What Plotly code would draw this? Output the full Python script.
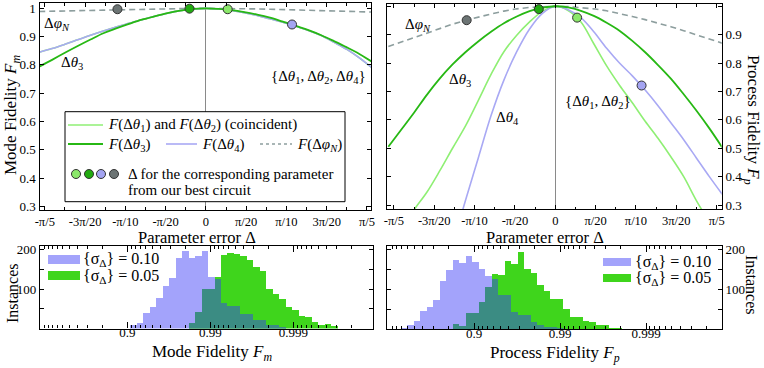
import math
import plotly.graph_objects as go

W, H = 764, 368
SERIF = "Liberation Serif, Times New Roman, serif"

# parameter error grid (rad)
DELTA = [-0.65, -0.60, -0.55, -0.50, -0.45, -0.40, -0.35, -0.30, -0.25, -0.20, -0.15, -0.10, -0.05,
         0.00, 0.05, 0.10, 0.15, 0.20, 0.25, 0.30, 0.35, 0.40, 0.45, 0.50, 0.55, 0.60, 0.65]

# mode fidelity vs parameter error
MODE_T3 = [0.794, 0.818, 0.843, 0.867, 0.890, 0.912, 0.929, 0.945, 0.960, 0.972, 0.983, 0.992, 0.998,
           1.000, 0.998, 0.994, 0.987, 0.978, 0.967, 0.953, 0.938, 0.923, 0.905, 0.884, 0.862, 0.838, 0.810]
MODE_T4 = [0.845, 0.858, 0.873, 0.889, 0.905, 0.920, 0.934, 0.947, 0.960, 0.972, 0.983, 0.992, 0.998,
           1.000, 0.998, 0.993, 0.985, 0.975, 0.963, 0.951, 0.937, 0.922, 0.904, 0.880, 0.855, 0.824, 0.788]
MODE_T12 = [0.845, 0.858, 0.873, 0.889, 0.905, 0.920, 0.934, 0.947, 0.960, 0.972, 0.983, 0.992, 0.998,
            1.000, 0.998, 0.993, 0.985, 0.975, 0.963, 0.951, 0.937, 0.922, 0.904, 0.880, 0.855, 0.824, 0.788]
MODE_PHI = [0.989, 0.990, 0.992, 0.993, 0.994, 0.995, 0.996, 0.997, 0.998, 0.999, 0.999, 1.000, 1.000,
            1.000, 1.000, 1.000, 0.999, 0.998, 0.997, 0.996, 0.995, 0.994, 0.993, 0.992, 0.990, 0.989, 0.987]

# process fidelity vs parameter error
PROC_T3 = [0.505, 0.565, 0.625, 0.688, 0.745, 0.795, 0.838, 0.876, 0.910, 0.940, 0.964, 0.983, 0.995,
           1.000, 0.996, 0.984, 0.966, 0.942, 0.914, 0.878, 0.838, 0.793, 0.745, 0.690, 0.632, 0.570, 0.503]
PROC_T12 = [0.130, 0.210, 0.283, 0.345, 0.420, 0.500, 0.578, 0.668, 0.760, 0.840, 0.898, 0.945, 0.982,
            1.000, 0.985, 0.945, 0.868, 0.790, 0.722, 0.660, 0.595, 0.535, 0.470, 0.400, 0.315, 0.240, 0.170]
PROC_T4 = [None, None, None, None, None, 0.160, 0.315, 0.465, 0.615, 0.740, 0.840, 0.920, 0.975,
           1.000, 0.988, 0.960, 0.910, 0.852, 0.800, 0.755, 0.705, 0.650, 0.590, 0.530, 0.465, 0.400, 0.338]
PROC_PHI = [0.858, 0.874, 0.889, 0.906, 0.921, 0.937, 0.950, 0.962, 0.973, 0.983, 0.991, 0.996, 0.999,
            1.000, 0.999, 0.996, 0.991, 0.984, 0.975, 0.964, 0.953, 0.941, 0.928, 0.914, 0.899, 0.885, 0.870]

# errors of our best circuit: theta1/2, theta3, theta4, phi_N
BEST_DELTA = [0.085, -0.064, 0.336, -0.345]
BEST_MODE = [0.997, 0.999, 0.943, 0.997]
BEST_PROC = [0.960, 0.990, 0.721, 0.951]

# histograms, bins in "number of nines" = -log10(1 - F)
M_BIN0, M_BINW = 1.032, 0.0783
M_S10 = [9, 15, 39, 56, 77, 107, 128, 179, 198, 180, 184, 198, 130, 125, 64, 58, 58, 37, 36, 22, 21, 10, 8, 2]
M_S05 = [0, 0, 0, 0, 0, 0, 0, 0, 0, 15, 43, 100, 100, 132, 186, 191, 190, 185, 174, 157, 147, 101, 88, 75,
         56, 47, 33, 29, 16, 10, 12, 7]
P_BIN0, P_BINW = 0.151, 0.0756
P_S10 = [3, 11, 22, 45, 55, 74, 120, 150, 175, 166, 185, 168, 151, 133, 125, 87, 87, 43, 35, 35, 18, 12, 7, 7, 2]
P_S05 = [0, 0, 0, 0, 0, 0, 0, 0, 14, 9, 41, 40, 68, 105, 140, 136, 172, 165, 195, 151, 141, 110, 95, 76, 76,
         51, 32, 32, 20, 18, 10, 12, 4, 4]

PI_TICKS = ["-π/5", "-3π/20", "-π/10", "-π/20", "0", "π/20", "π/10", "3π/20", "π/5"]

LGREEN = "#8fef74"
DGREEN = "#27b814"
PURPLE = "#a9a9f4"
GRAY = "#8d9e9e"
DOT_COLORS = ["#8be86a", "#22aa11", "#a4a4f2", "#6c7474"]
BAR_PURPLE = "#a3a3fb"
BAR_GREEN = "#3fd51c"
BAR_TEAL = "#3b8c83"


def px(x):
    return x / W


def py(y):
    return 1 - y / H


def ann(text, x, y, size=15, xa="center", ya="middle", angle=0):
    return dict(text=text, x=px(x), y=py(y), xref="paper", yref="paper", showarrow=False,
                xanchor=xa, yanchor=ya, textangle=angle,
                font=dict(family=SERIF, size=size, color="black"))


fig = go.Figure()

# top panels: curves
for (t12, t3, t4, phi, best, ax) in [(MODE_T12, MODE_T3, MODE_T4, MODE_PHI, BEST_MODE, ""),
                                    (PROC_T12, PROC_T3, PROC_T4, PROC_PHI, BEST_PROC, "2")]:
    xa, ya = "x" + ax, "y" + ax
    fig.add_trace(go.Scatter(x=DELTA, y=phi, mode="lines", line=dict(color=GRAY, width=1.6, dash="6px,4px"),
                             xaxis=xa, yaxis=ya))
    fig.add_trace(go.Scatter(x=DELTA, y=t12, mode="lines", line=dict(color=LGREEN, width=1.6, shape="spline"),
                             xaxis=xa, yaxis=ya))
    fig.add_trace(go.Scatter(x=DELTA, y=t4, mode="lines", line=dict(color=PURPLE, width=1.6, shape="spline"),
                             xaxis=xa, yaxis=ya))
    fig.add_trace(go.Scatter(x=DELTA, y=t3, mode="lines", line=dict(color=DGREEN, width=1.8, shape="spline"),
                             xaxis=xa, yaxis=ya))
    fig.add_trace(go.Scatter(x=BEST_DELTA, y=best, mode="markers", xaxis=xa, yaxis=ya,
                             marker=dict(size=9, color=DOT_COLORS, line=dict(color="#333333", width=1))))

# bottom panels: histograms (overlap of the two drawn in teal)
for (s10, s05, b0, bw, ax) in [(M_S10, M_S05, M_BIN0, M_BINW, "3"), (P_S10, P_S05, P_BIN0, P_BINW, "4")]:
    n = max(len(s10), len(s05))
    a = s10 + [0] * (n - len(s10))
    b = s05 + [0] * (n - len(s05))
    centers = [b0 + bw * (i + 0.5) for i in range(n)]
    overlap = [min(u, v) for u, v in zip(a, b)]
    for vals, col in [(a, BAR_PURPLE), (b, BAR_GREEN), (overlap, BAR_TEAL)]:
        fig.add_trace(go.Bar(x=centers, y=vals, width=bw, marker=dict(color=col, line=dict(width=0)),
                             xaxis="x" + ax, yaxis="y" + ax))

common = dict(showline=True, linecolor="black", linewidth=1.2, mirror="ticks", ticks="inside", ticklen=4,
              tickcolor="black", showgrid=False, zeroline=False, automargin=False,
              tickfont=dict(family=SERIF, size=13, color="black"))

pi_vals = [k * math.pi / 20 for k in range(-4, 5)]
pi_minor = [k * math.pi / 40 for k in range(-9, 10, 2)]
fid_vals = [0.3, 0.4, 0.5, 0.6, 0.7, 0.8, 0.9, 1.0]
fid_text = ["0.3", "0.4", "0.5", "0.6", "0.7", "0.8", "0.9", "1"]

nines_minor = [0] + [d - math.log10(k) for d in range(1, 5) for k in range(2, 10)]

fig.update_layout(
    width=W, height=H, margin=dict(l=0, r=0, t=0, b=0),
    paper_bgcolor="white", plot_bgcolor="white", showlegend=False, barmode="overlay", bargap=0,
    xaxis=dict(common, domain=[px(39.5), px(371)], range=[-0.649, 0.644], anchor="y",
               tickvals=pi_vals, ticktext=PI_TICKS, tickfont=dict(family=SERIF, size=12.5, color="black"),
               zeroline=True, zerolinecolor="#8a8a8a", zerolinewidth=1,
               minor=dict(tickvals=pi_minor, ticks="inside", ticklen=2.5, tickcolor="black")),
    yaxis=dict(common, domain=[py(210), py(3)], range=[0.287, 1.019], anchor="x",
               tickvals=fid_vals, ticktext=fid_text),
    xaxis2=dict(common, domain=[px(387.3), px(721.7)], range=[-0.654, 0.648], anchor="y2",
                tickvals=pi_vals, ticktext=PI_TICKS, tickfont=dict(family=SERIF, size=12.5, color="black"),
                zeroline=True, zerolinecolor="#8a8a8a", zerolinewidth=1,
                minor=dict(tickvals=pi_minor, ticks="inside", ticklen=2.5, tickcolor="black")),
    yaxis2=dict(common, domain=[py(209.3), py(4)], range=[0.285, 1.008], anchor="x2", side="right",
                tickvals=fid_vals, ticktext=fid_text),
    xaxis3=dict(common, domain=[px(40), px(373)], range=[-0.053, 3.96], anchor="y3",
                tickvals=[1, 2, 3], ticktext=["0.9", "0.99", "0.999"], ticklen=6, ticklabelstandoff=-8,
                minor=dict(tickvals=nines_minor, ticks="inside", ticklen=3, tickcolor="black")),
    yaxis3=dict(common, domain=[py(328.5), py(246)], range=[0, 210], anchor="x3",
                tickvals=[100, 200], ticktext=["100", "200"],
                minor=dict(tickvals=[50, 150], ticks="inside", ticklen=4, tickcolor="black")),
    xaxis4=dict(common, domain=[px(387.3), px(721.7)], range=[-0.01, 3.88], anchor="y4",
                tickvals=[1, 2, 3], ticktext=["0.9", "0.99", "0.999"], ticklen=6, ticklabelstandoff=-8,
                minor=dict(tickvals=nines_minor, ticks="inside", ticklen=3, tickcolor="black")),
    yaxis4=dict(common, domain=[py(329.3), py(246)], range=[0, 209], anchor="x4", side="right",
                tickvals=[100, 200], ticktext=["100", "200"],
                minor=dict(tickvals=[50, 150], ticks="inside", ticklen=4, tickcolor="black")),
)

F = "<i>F</i>"
th = "<i>θ</i>"
phiN = "Δ<i>φ</i><sub><i>N</i></sub>"

annotations = [
    ann("Mode Fidelity " + F + "<sub><i>m</i></sub>", 12, 115, size=17, angle=-90),
    ann("Process Fidelity " + F + "<sub><i>p</i></sub>", 752, 120, size=17, angle=90),
    ann("Parameter error Δ", 197, 237, size=16.5),
    ann("Parameter error Δ", 545, 237, size=16.5),
    ann("Instances", 12, 293, size=16, angle=-90),
    ann("Instances", 752, 285, size=16, angle=90),
    ann("Mode Fidelity " + F + "<sub><i>m</i></sub>", 212, 353, size=17),
    ann("Process Fidelity " + F + "<sub><i>p</i></sub>", 555, 354, size=17),
    # curve labels
    ann(phiN, 57, 24, size=15),
    ann("Δ" + th + "<sub>3</sub>", 72, 63, size=15),
    ann("{Δ" + th + "<sub>1</sub>, Δ" + th + "<sub>2</sub>, Δ" + th + "<sub>4</sub>}", 318, 77, size=15),
    ann(phiN, 418, 25, size=15),
    ann("Δ" + th + "<sub>3</sub>", 460, 80, size=15),
    ann("Δ" + th + "<sub>4</sub>", 507, 118, size=15),
    ann("{Δ" + th + "<sub>1</sub>, Δ" + th + "<sub>2</sub>}", 598, 102, size=15),
    # legend text
    ann(F + "(Δ" + th + "<sub>1</sub>) and " + F + "(Δ" + th + "<sub>2</sub>) (coincident)", 106, 125,
        size=15, xa="left"),
    ann(F + "(Δ" + th + "<sub>3</sub>)", 106, 145, size=15, xa="left"),
    ann(F + "(Δ" + th + "<sub>4</sub>)", 200, 145, size=15, xa="left"),
    ann(F + "(" + phiN + ")", 295, 145, size=15, xa="left"),
    ann("Δ for the corresponding parameter", 126, 174, size=15, xa="left"),
    ann("from our best circuit", 126, 190, size=15, xa="left"),
    # histogram legends
    ann("{σ<sub>Δ</sub>} = 0.10", 81, 259, size=16, xa="left"),
    ann("{σ<sub>Δ</sub>} = 0.05", 81, 276, size=16, xa="left"),
    ann("{σ<sub>Δ</sub>} = 0.10", 633, 262, size=16, xa="left"),
    ann("{σ<sub>Δ</sub>} = 0.05", 633, 278, size=16, xa="left"),
]

shapes = [
    dict(type="rect", xref="paper", yref="paper", x0=px(65), x1=px(345), y0=py(201.7), y1=py(111.7),
         fillcolor="white", line=dict(color="black", width=1)),
    dict(type="line", xref="paper", yref="paper", x0=px(68), x1=px(103), y0=py(125), y1=py(125),
         line=dict(color=LGREEN, width=1.6)),
    dict(type="line", xref="paper", yref="paper", x0=px(68), x1=px(103), y0=py(144), y1=py(144),
         line=dict(color=DGREEN, width=1.8)),
    dict(type="line", xref="paper", yref="paper", x0=px(166), x1=px(197), y0=py(144), y1=py(144),
         line=dict(color=PURPLE, width=1.6)),
    dict(type="line", xref="paper", yref="paper", x0=px(260), x1=px(292), y0=py(144), y1=py(144),
         line=dict(color=GRAY, width=1.6, dash="dot")),
    dict(type="rect", xref="paper", yref="paper", x0=px(48), x1=px(80), y0=py(264), y1=py(255),
         fillcolor=BAR_PURPLE, line=dict(width=0)),
    dict(type="rect", xref="paper", yref="paper", x0=px(48), x1=px(80), y0=py(280), y1=py(271),
         fillcolor=BAR_GREEN, line=dict(width=0)),
    dict(type="rect", xref="paper", yref="paper", x0=px(603), x1=px(631), y0=py(266), y1=py(258),
         fillcolor=BAR_PURPLE, line=dict(width=0)),
    dict(type="rect", xref="paper", yref="paper", x0=px(603), x1=px(631), y0=py(282), y1=py(274),
         fillcolor=BAR_GREEN, line=dict(width=0)),
]
for cx, col in zip([76, 89, 101, 114], DOT_COLORS):
    shapes.append(dict(type="circle", xref="paper", yref="paper", xsizemode="pixel", ysizemode="pixel",
                       xanchor=px(cx), yanchor=py(174), x0=-4.5, x1=4.5, y0=-4.5, y1=4.5,
                       fillcolor=col, line=dict(color="#333333", width=1)))

fig.update_layout(annotations=annotations, shapes=shapes)
# the page's default body margin would push the fixed-size figure out of the window
fig.write_html("out.html", config={"displayModeBar": False},
               post_script="document.body.style.margin = '0px';")
